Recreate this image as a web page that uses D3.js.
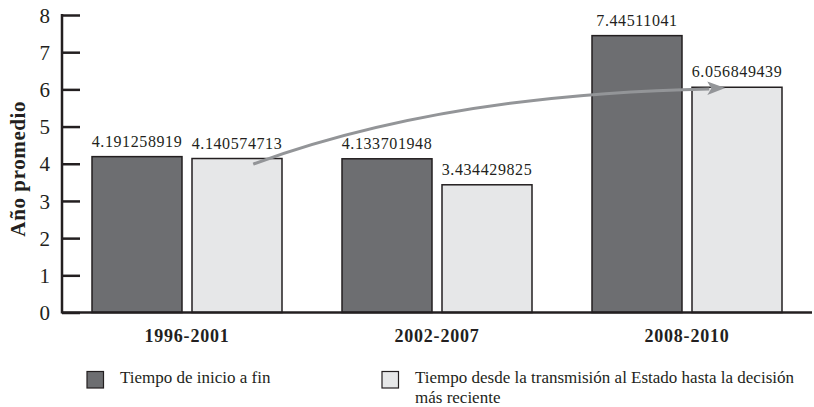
<!DOCTYPE html>
<html>
<head>
<meta charset="utf-8">
<script src="https://cdn.jsdelivr.net/npm/d3@7"></script>
<style>
  html, body { margin: 0; padding: 0; background: #fff; }
  svg { display: block; }
  text { font-family: "Liberation Serif", "DejaVu Serif", serif; fill: #231f20; }
</style>
</head>
<body>
<svg id="chart" width="814" height="407"></svg>
<script>
// ---- data ----
const categories = ["1996-2001", "2002-2007", "2008-2010"];
const seriesNames = ["Tiempo de inicio a fin", "Tiempo desde la transmisión al Estado hasta la decisión más reciente"];
const seriesInicioFin = [4.191258919, 4.133701948, 7.44511041];
const seriesTransmision = [4.140574713, 3.434429825, 6.056849439];
const valueLabels = [["4.191258919", "4.133701948", "7.44511041"], ["4.140574713", "3.434429825", "6.056849439"]];
const yTicks = [0, 1, 2, 3, 4, 5, 6, 7, 8];
const yTitle = "Año promedio";

const colors = ["#6d6e71", "#e6e7e8"];
const ink = "#231f20";

const svg = d3.select("#chart");
const x0L = 62, x0R = 812, yTop = 15, yBot = 312.5;

const x0 = d3.scaleBand().domain(categories).range([x0L, x0R]).paddingInner(0.24).paddingOuter(0.12);
const x1 = d3.scaleBand().domain([0, 1]).range([0, x0.bandwidth()]).paddingInner(0.1);
const y = d3.scaleLinear().domain([0, 8]).range([yBot, yTop]);

const series = [seriesInicioFin, seriesTransmision];
const rows = [];
categories.forEach((c, i) => series.forEach((s, k) => rows.push({ c, k, v: s[i], label: valueLabels[k][i] })));

// bars
svg.append("g").selectAll("rect").data(rows).join("rect")
  .attr("x", d => x0(d.c) + x1(d.k))
  .attr("y", d => y(d.v))
  .attr("width", x1.bandwidth())
  .attr("height", d => y(0) - y(d.v))
  .attr("fill", d => colors[d.k])
  .attr("stroke", ink)
  .attr("stroke-width", 1.5);

// value labels
svg.append("g").selectAll("text").data(rows).join("text")
  .attr("x", d => x0(d.c) + x1(d.k) + x1.bandwidth() / 2)
  .attr("y", d => y(d.v) - 10)
  .attr("text-anchor", "middle")
  .attr("font-size", 16)
  .attr("letter-spacing", 0.6)
  .text(d => d.label);

// y axis
const yAxis = svg.append("g").attr("transform", `translate(${x0L},0)`)
  .call(d3.axisRight(y).tickValues(yTicks).tickSize(18).tickFormat(d3.format("d")));
yAxis.select(".domain").remove();
yAxis.selectAll(".tick line").attr("stroke", ink).attr("stroke-width", 2.5);
yAxis.selectAll(".tick text").attr("x", -12).attr("text-anchor", "end")
  .attr("font-size", 21).attr("font-family", "Liberation Serif, serif").attr("fill", ink).attr("dy", "0.34em");
svg.append("line").attr("x1", x0L).attr("x2", x0L).attr("y1", y(8) - 1).attr("y2", y(0) + 1)
  .attr("stroke", ink).attr("stroke-width", 2.5);
// baseline
svg.append("line").attr("x1", x0L).attr("x2", x0R).attr("y1", y(0)).attr("y2", y(0))
  .attr("stroke", ink).attr("stroke-width", 2.5);

// category labels
svg.append("g").selectAll("text").data(categories).join("text")
  .attr("x", d => x0(d) + x0.bandwidth() / 2)
  .attr("y", 342)
  .attr("text-anchor", "middle")
  .attr("font-size", 18)
  .attr("font-weight", "bold")
  .attr("letter-spacing", 0.8)
  .text(d => d);

// y title
svg.append("text")
  .attr("transform", `translate(25,${(y(8) + y(0)) / 2 + 5}) rotate(-90)`)
  .attr("text-anchor", "middle")
  .attr("font-size", 21)
  .attr("font-weight", "bold")
  .attr("letter-spacing", 0.6)
  .text(yTitle);

// arrow annotation (in data coordinates)
const bw = x1.bandwidth();
const sx = x0(categories[0]) + x1(1) + 0.68 * bw, sy = y(3.99);
const ex = x0(categories[2]) + x1(1) + 0.37 * bw, ey = y(6.04);
const headLen = 18;
const bx = ex - headLen;
const path = d3.path();
path.moveTo(sx, sy);
path.bezierCurveTo(sx + 147, sy - 54, sx + 307, ey + 4, bx + 2, ey + 1);
svg.append("path").attr("d", path.toString()).attr("fill", "none")
  .attr("stroke", "#939598").attr("stroke-width", 3);
svg.append("path")
  .attr("d", `M${ex},${ey} L${bx},${ey - 6.5} L${bx + 4},${ey + 0.5} L${bx},${ey + 7} Z`)
  .attr("fill", "#939598");

// legend
const legendItems = [
  { k: 0, sx: 87, lines: [seriesNames[0]] },
  { k: 1, sx: 382, lines: ["Tiempo desde la transmisión al Estado hasta la decisión", "más reciente"] }
];
const lg = svg.append("g");
legendItems.forEach(it => {
  lg.append("rect").attr("x", it.sx).attr("y", 371.5).attr("width", 16.5).attr("height", 16.5)
    .attr("fill", colors[it.k]).attr("stroke", ink).attr("stroke-width", 1.2);
  const t = lg.append("text").attr("x", it.sx + 33).attr("y", 383).attr("font-size", 17);
  it.lines.forEach((ln, i) => t.append("tspan").attr("x", it.sx + 33).attr("dy", i === 0 ? 0 : 19.5).text(ln));
});
</script>
</body>
</html>
